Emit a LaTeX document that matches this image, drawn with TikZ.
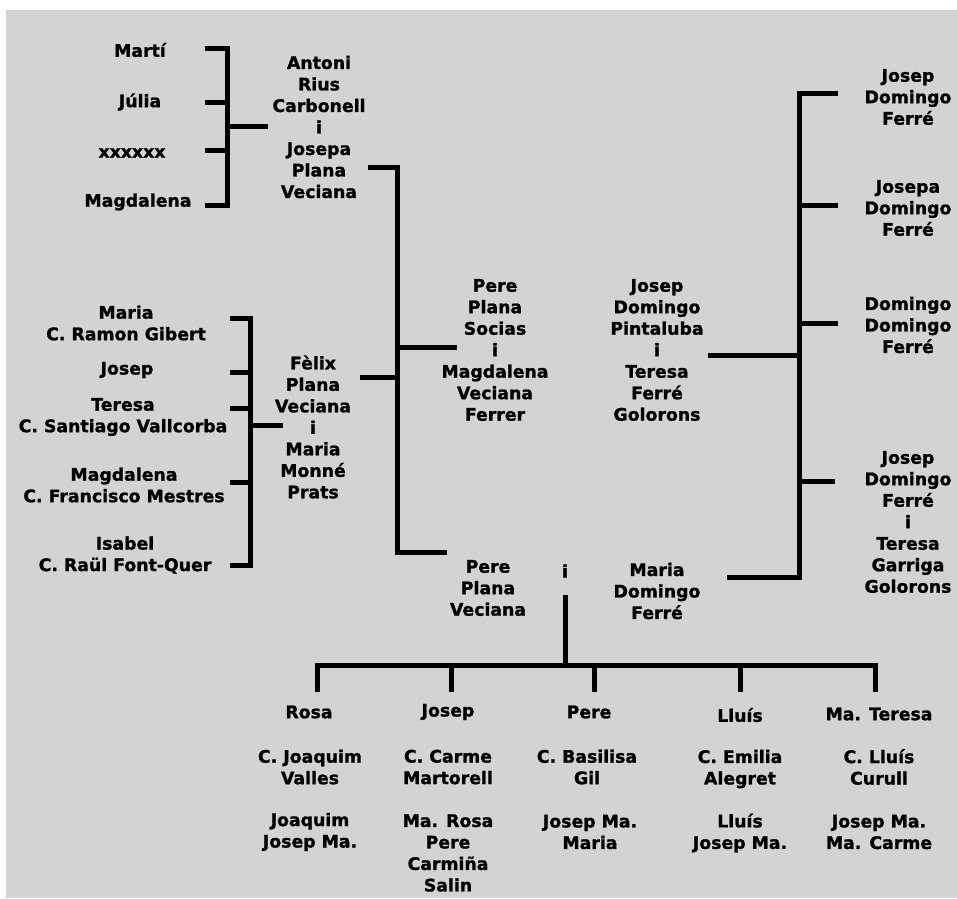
\documentclass[tikz,border=0pt]{standalone}
\usepackage{fontspec}
\setmainfont{DejaVu Sans}[BoldFeatures={FakeBold=1.2}]
\definecolor{bg}{HTML}{D3D3D3}
\begin{document}
\begin{tikzpicture}[x=1pt,y=-1pt,
  nm/.style={font=\bfseries\fontsize{17.3}{21.5}\selectfont, align=center, inner sep=0pt, text=black},
  ln/.style={line width=5pt, black, line join=miter}]
\fill[white] (0,0) rectangle (957,898);
\fill[bg] (6,10) rectangle (957,898);
\useasboundingbox (0,0) rectangle (957,898);

% top-left siblings
\node[nm] (marti) at (140,50) {Martí};
\node[nm] (julia) at (140,102) {Júlia};
\node[nm] (xx) at (132,153) {xxxxxx};
\node[nm] (magda) at (138,202) {Magdalena};
\node[nm] (antoni) at (319,127) {Antoni\\Rius\\Carbonell\\i\\Josepa\\Plana\\Veciana};

% left middle siblings
\node[nm] (maria) at (126,323) {Maria\\C. Ramon Gibert};
\node[nm] (josepL) at (127,370) {Josep};
\node[nm] (teresa) at (123,417) {Teresa\\C. Santiago Vallcorba};
\node[nm] (magdaL) at (124,485) {Magdalena\\C. Francisco Mestres};
\node[nm] (isabel) at (125,555) {Isabel\\C. Raül Font-Quer};
\node[nm] (felix) at (313,427) {Fèlix\\Plana\\Veciana\\i\\Maria\\Monné\\Prats};

% centre
\node[nm] (peresoc) at (495,350) {Pere\\Plana\\Socias\\i\\Magdalena\\Veciana\\Ferrer};
\node[nm] (josepdp) at (657,350) {Josep\\Domingo\\Pintaluba\\i\\Teresa\\Ferré\\Golorons};
\node[nm] (pereplv) at (488,588) {Pere\\Plana\\Veciana};
\node[nm] (iand) at (565,571) {i};
\node[nm] (mariadf) at (657,591) {Maria\\Domingo\\Ferré};

% right
\node[nm] (jdf1) at (908,97) {Josep\\Domingo\\Ferré};
\node[nm] (jdf2) at (908,208) {Josepa\\Domingo\\Ferré};
\node[nm] (ddf) at (908,325) {Domingo\\Domingo\\Ferré};
\node[nm] (jdf3) at (908,522) {Josep\\Domingo\\Ferré\\i\\Teresa\\Garriga\\Golorons};

% bottom children
\node[nm] (rosa) at (309,712) {Rosa};
\node[nm] (rosac) at (310,767) {C. Joaquim\\Valles};
\node[nm] (rosak) at (310,832) {Joaquim\\Josep Ma.};
\node[nm] (josepB) at (448,712) {Josep};
\node[nm] (josepc) at (448,767) {C. Carme\\Martorell};
\node[nm] (josepk) at (448,853) {Ma. Rosa\\Pere\\Carmiña\\Salin};
\node[nm] (pereB) at (589,712) {Pere};
\node[nm] (perec) at (587,767) {C. Basilisa\\Gil};
\node[nm] (perek) at (590,832) {Josep Ma.\\Maria};
\node[nm] (lluis) at (740,715) {Lluís};
\node[nm] (lluisc) at (740,769) {C. Emilia\\Alegret};
\node[nm] (lluisk) at (740,833) {Lluís\\Josep Ma.};
\node[nm] (mat) at (879,714) {Ma. Teresa};
\node[nm] (matc) at (879,767) {C. Lluís\\Curull};
\node[nm] (matk) at (879,832) {Josep Ma.\\Ma. Carme};

% coordinates for brackets
\coordinate (a1) at (205,48);  \coordinate (a1s) at (227,48);
\coordinate (a4) at (205,205); \coordinate (a4s) at (227,205);
\coordinate (a2) at (205,102); \coordinate (a2s) at (227,102);
\coordinate (a3) at (205,150); \coordinate (a3s) at (227,150);
\coordinate (am) at (227,126); \coordinate (ame) at (268,126);

\coordinate (b0) at (368,167); \coordinate (b0s) at (397,167);
\coordinate (b9s) at (397,552); \coordinate (b9) at (447,552);
\coordinate (b1s) at (397,347); \coordinate (b1) at (457,347);
\coordinate (b2) at (360,377); \coordinate (b2s) at (397,377);

\coordinate (c1) at (230,318); \coordinate (c1s) at (250,318);
\coordinate (c5) at (230,565); \coordinate (c5s) at (250,565);
\coordinate (c2) at (230,372); \coordinate (c2s) at (250,372);
\coordinate (c3) at (230,408); \coordinate (c3s) at (250,408);
\coordinate (c4) at (230,482); \coordinate (c4s) at (250,482);
\coordinate (cm) at (250,425); \coordinate (cme) at (283,425);

\coordinate (d1) at (838,93);  \coordinate (d1s) at (799,93);
\coordinate (d9s) at (799,577); \coordinate (d9) at (727,577);
\coordinate (d2s) at (799,205); \coordinate (d2) at (838,205);
\coordinate (d3s) at (799,323); \coordinate (d3) at (838,323);
\coordinate (d4s) at (799,481); \coordinate (d4) at (835,481);
\coordinate (dm) at (708,355); \coordinate (dms) at (799,355);

\coordinate (e0) at (565,595); \coordinate (e0s) at (565,665);
\coordinate (e1) at (317,692); \coordinate (e1s) at (317,665);
\coordinate (e5) at (875,692); \coordinate (e5s) at (875,665);
\coordinate (e2s) at (451,665); \coordinate (e2) at (451,692);
\coordinate (e3s) at (594,665); \coordinate (e3) at (594,692);
\coordinate (e4s) at (740,665); \coordinate (e4) at (740,692);

% connectors
\draw[ln] (a1) -- (a1s) -- (a4s) -- (a4);
\draw[ln] (a2) -- (a2s);
\draw[ln] (a3) -- (a3s);
\draw[ln] (am) -- (ame);

\draw[ln] (b0) -- (b0s) -- (b9s) -- (b9);
\draw[ln] (b1s) -- (b1);
\draw[ln] (b2) -- (b2s);

\draw[ln] (c1) -- (c1s) -- (c5s) -- (c5);
\draw[ln] (c2) -- (c2s);
\draw[ln] (c3) -- (c3s);
\draw[ln] (c4) -- (c4s);
\draw[ln] (cm) -- (cme);

\draw[ln] (d1) -- (d1s) -- (d9s) -- (d9);
\draw[ln] (d2s) -- (d2);
\draw[ln] (d3s) -- (d3);
\draw[ln] (d4s) -- (d4);
\draw[ln] (dm) -- (dms);

\draw[ln] (e0) -- (e0s);
\draw[ln] (e1) -- (e1s) -- (e5s) -- (e5);
\draw[ln] (e2s) -- (e2);
\draw[ln] (e3s) -- (e3);
\draw[ln] (e4s) -- (e4);
\end{tikzpicture}
\end{document}
